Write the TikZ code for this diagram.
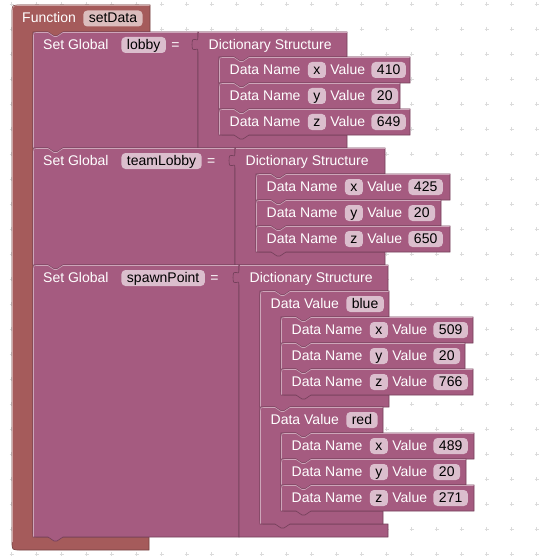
\documentclass[tikz,border=0pt]{standalone}
\usepackage{fontspec}
\setmainfont{Liberation Sans}
\usetikzlibrary{positioning}
\definecolor{funcred}{RGB}{165,91,91}
\definecolor{funcfield}{RGB}{219,189,189}
\definecolor{varpink}{RGB}{165,91,128}
\definecolor{varfield}{RGB}{219,190,205}
\tikzset{
funcblock/.style={fill=funcred, draw=funcred!70!black, line width=0.6pt},
varblock/.style={fill=varpink, draw=varpink!70!black, line width=0.6pt},
hilite/.style={draw=varpink!55!white, line width=0.6pt},
blocktext/.style={text=white, font=\fontsize{14}{16}\selectfont, inner xsep=0pt,
                  inner ysep=2.5pt, text height=10pt, text depth=1pt},
fieldbox/.style={blocktext, text=black, fill=varfield, rounded corners=4pt, inner xsep=5.5pt},
gridmark/.style={draw=black!14, line width=0.5pt},
}

% statement block: style, left, top, right, bottom
\newcommand{\stmtblock}[5]{%
  \filldraw[#1] (#2,#5) -- (#2,#3+5) .. controls (#2,#3) .. (#2+5,#3) -- (#2+15,#3) -- ++(6,4) -- ++(3,0) -- ++(6,-4)
    -- (#4,#3) -- (#4,#5) -- (#2+30,#5) -- ++(-6,4) -- ++(-3,0) -- ++(-6,-4) -- cycle;
  \draw[hilite] (#2+0.5,#5-0.5) -- (#2+0.5,#3+5) .. controls (#2+0.5,#3+0.5) .. (#2+5,#3+0.5)
    -- (#2+15,#3+0.5) -- ++(6,4) -- ++(3,0) -- ++(6,-4) -- (#4-0.5,#3+0.5);}

% statement block with inner input: style, left, top, right, header bottom, inner bottom, bottom
\newcommand{\cstmtblock}[7]{%
  \filldraw[#1] (#2,#7) -- (#2,#3+5) .. controls (#2,#3) .. (#2+5,#3) -- (#2+15,#3) -- ++(6,4) -- ++(3,0) -- ++(6,-4)
    -- (#4,#3) -- (#4,#5) -- (#2+51,#5) -- ++(-6,4) -- ++(-3,0) -- ++(-6,-4) -- (#2+21,#5)
    -- (#2+21,#6-5) .. controls (#2+21,#6) .. (#2+26,#6) -- (#4,#6) -- (#4,#7)
    -- (#2+30,#7) -- ++(-6,4) -- ++(-3,0) -- ++(-6,-4) -- cycle;
  \draw[hilite] (#2+0.5,#7-0.5) -- (#2+0.5,#3+5) .. controls (#2+0.5,#3+0.5) .. (#2+5,#3+0.5)
    -- (#2+15,#3+0.5) -- ++(6,4) -- ++(3,0) -- ++(6,-4) -- (#4-0.5,#3+0.5);}

% value block with inner input: style, left, top, right, header bottom, inner bottom, bottom
\newcommand{\cvalblock}[7]{%
  \filldraw[#1] (#2,#3) -- (#4,#3) -- (#4,#5) -- (#2+51,#5) -- ++(-6,4) -- ++(-3,0) -- ++(-6,-4) -- (#2+21,#5)
    -- (#2+21,#6-5) .. controls (#2+21,#6) .. (#2+26,#6) -- (#4,#6) -- (#4,#7) -- (#2,#7)
    -- (#2,#3+20) .. controls (#2,#3+12) and (#2-6,#3+24) .. (#2-6,#3+12.5)
    .. controls (#2-6,#3+1) and (#2,#3+13) .. (#2,#3+5) -- cycle;
  \draw[hilite] (#2+0.5,#3+0.5) -- (#4-0.5,#3+0.5);}

% data row: name, left, top, right, key, value
\newcommand{\datarow}[6]{%
  \stmtblock{varblock}{#2}{#3}{#4}{#3+26}
  \node[blocktext, anchor=base west] (#1) at (#2+10.5,#3+17.5) {Data Name};
  \node[fieldbox, right=7pt of #1] (#1_KEY) {#5};
  \node[blocktext, right=4pt of #1_KEY] (#1_TXT) {Value};
  \node[fieldbox, right=6pt of #1_TXT] (#1_VAL) {#6};}

\begin{document}
\begin{tikzpicture}[x=1pt, y=-1pt]
    \useasboundingbox (0,0) rectangle (544,559);

    % workspace grid
    \foreach \gx in {0,...,21}
      \foreach \gy in {0,...,22}
        \draw[gridmark] (11.7+25*\gx-2,4+25*\gy) -- ++(4,0) (11.7+25*\gx,4+25*\gy-2) -- ++(0,4);

    % function block
    \filldraw[funcblock] (12,13) .. controls (12,5) .. (20,5) -- (150,5) -- (150,32) -- (63,32) -- ++(-6,4) -- ++(-3,0) -- ++(-6,-4)
        -- (33,32) -- (33,532) .. controls (33,537) .. (38,537) -- (149,537) -- (149,550) -- (20,550) .. controls (12,550) .. (12,542) -- cycle;
    \draw[draw=funcred!55!white, line width=0.6pt] (12.5,542) -- (12.5,13) .. controls (12.5,5.5) .. (20,5.5) -- (149.5,5.5);
    \node[blocktext, anchor=base west] (FUNC) at (22,23) {Function};
    \node[fieldbox, fill=funcfield, right=7pt of FUNC] (FUNC_NAME) {setData};

    % Set Global lobby
    \stmtblock{varblock}{33}{32}{198}{148}
    \node[blocktext, anchor=base west] (SET_0) at (43,49.5) {Set Global};
    \node[fieldbox, right=12.5pt of SET_0] (SET_0_VAR) {lobby};
    \node[blocktext, right=5pt of SET_0_VAR] (SET_0_EQ) {=};
    \cvalblock{varblock}{198}{32}{347}{57}{135}{148}
    \node[blocktext, anchor=base west] (DICT_0) at (208.5,49.5) {Dictionary Structure};
    \datarow{ROW_0_0}{219}{57}{410}{x}{410}
    \datarow{ROW_0_1}{219}{83}{400}{y}{20}
    \datarow{ROW_0_2}{219}{109}{410}{z}{649}

    % Set Global teamLobby
    \stmtblock{varblock}{33}{148}{235}{265}
    \node[blocktext, anchor=base west] (SET_1) at (43,165.5) {Set Global};
    \node[fieldbox, right=12.5pt of SET_1] (SET_1_VAR) {teamLobby};
    \node[blocktext, right=5pt of SET_1_VAR] (SET_1_EQ) {=};
    \cvalblock{varblock}{235}{148}{385}{174}{252}{265}
    \node[blocktext, anchor=base west] (DICT_1) at (245.5,165.5) {Dictionary Structure};
    \datarow{ROW_1_0}{256}{174}{450}{x}{425}
    \datarow{ROW_1_1}{256}{200}{441}{y}{20}
    \datarow{ROW_1_2}{256}{226}{450}{z}{650}

    % Set Global spawnPoint
    \stmtblock{varblock}{33}{265}{239}{537}
    \node[blocktext, anchor=base west] (SET_2) at (43,282.5) {Set Global};
    \node[fieldbox, right=12.5pt of SET_2] (SET_2_VAR) {spawnPoint};
    \node[blocktext, right=5pt of SET_2_VAR] (SET_2_EQ) {=};
    \cvalblock{varblock}{239}{265}{388}{291}{524}{537}
    \node[blocktext, anchor=base west] (DICT_2) at (249.5,282.5) {Dictionary Structure};

    \cstmtblock{varblock}{260}{291}{389}{317}{395}{407}
    \node[blocktext, anchor=base west] (VAL_0) at (270.5,308.5) {Data Value};
    \node[fieldbox, right=7pt of VAL_0] (VAL_0_KEY) {blue};
    \datarow{ROW_2_0}{281}{317}{473}{x}{509}
    \datarow{ROW_2_1}{281}{343}{465}{y}{20}
    \datarow{ROW_2_2}{281}{369}{473}{z}{766}

    \cstmtblock{varblock}{260}{407}{383}{433}{511}{524}
    \node[blocktext, anchor=base west] (VAL_1) at (270.5,424.5) {Data Value};
    \node[fieldbox, right=7pt of VAL_1] (VAL_1_KEY) {red};
    \datarow{ROW_3_0}{281}{433}{474}{x}{489}
    \datarow{ROW_3_1}{281}{459}{466}{y}{20}
    \datarow{ROW_3_2}{281}{485}{474}{z}{271}
\end{tikzpicture}
\end{document}
